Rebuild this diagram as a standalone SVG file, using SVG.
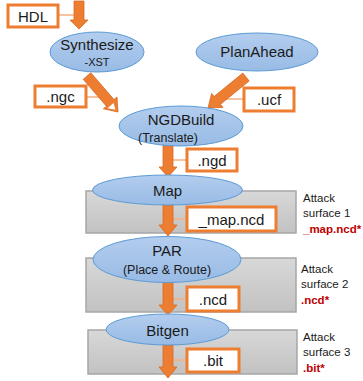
<svg xmlns="http://www.w3.org/2000/svg" width="363" height="381" viewBox="0 0 363 381">
<defs>
<linearGradient id="gb" x1="0" y1="0" x2="0" y2="1"><stop offset="0" stop-color="#b3cdee"/><stop offset="1" stop-color="#98bbe5"/></linearGradient>
<linearGradient id="gg" x1="0" y1="0" x2="0" y2="1"><stop offset="0" stop-color="#d8d8d8"/><stop offset="1" stop-color="#c2c2c2"/></linearGradient>
</defs>
<style>
.surf{fill:url(#gg);stroke:#a6a6a6;stroke-width:1.5}
.node{fill:url(#gb);stroke:#5b9bd5;stroke-width:1}
.box{fill:#fff;stroke:#ed7d31;stroke-width:3}
.arr{fill:#ed7d31;stroke:#d96a22;stroke-width:0.8}
.lnk{stroke:#f4b183;stroke-width:1.5;fill:none}
text{font-family:"Liberation Sans",Arial,sans-serif;fill:#1a1a1a}
.t{font-size:15px;text-anchor:middle}
.s{font-size:12.5px;text-anchor:middle}
.a{font-size:11.5px}
.r{font-size:11.5px;font-weight:bold;fill:#c00000}
</style>
<g id="surfaces">
<rect class="surf" x="86" y="191" width="210" height="42"/>
<rect class="surf" x="86" y="258" width="210" height="54"/>
<rect class="surf" x="88" y="330" width="209" height="44"/>
</g>
<g id="connectors">
<line class="lnk" x1="58" y1="15" x2="76" y2="15"/>
<polygon class="arr" points="74,1 84,1 84,20 88,20 79,29 70,20 74,20"/>
<line class="lnk" x1="86" y1="97" x2="101" y2="97"/>
<polygon class="arr" points="90.8,72.7 114,99.6 117,97 118,112 103.4,108.8 106.4,106.2 83.2,79.3"/>
<polygon points="113.5,103 115.5,109.8 107.5,108.3" fill="#fff"/>
<line class="lnk" x1="226" y1="99" x2="244" y2="99"/>
<polygon class="arr" points="249.2,80.9 220.5,104.3 223,107.4 208,108 211.6,93.4 214.1,96.5 242.8,73.1"/>
<line class="lnk" x1="172" y1="160" x2="187" y2="160"/>
<polygon class="arr" points="163,145 173,145 173,167 177,167 168,177 159,167 163,167"/>
<line class="lnk" x1="172" y1="219" x2="187" y2="219"/>
<polygon class="arr" points="163,205 173,205 173,225 177,225 168,236 159,225 163,225"/>
<line class="lnk" x1="172" y1="299" x2="187" y2="299"/>
<polygon class="arr" points="163,282 173,282 173,305 177,305 168,315 159,305 163,305"/>
<line class="lnk" x1="172" y1="360" x2="187" y2="360"/>
<polygon class="arr" points="163,345 173,345 173,367 177,367 168,378 159,367 163,367"/>
</g>
<g id="hdl"><rect class="box" x="8" y="5" width="50" height="22"/><text class="t" x="33" y="22">HDL</text></g>
<g id="synthesize"><ellipse class="node" cx="97" cy="52" rx="47" ry="20"/><text class="t" x="97" y="50">Synthesize</text><text x="97" y="66" font-size="11" text-anchor="middle">-XST</text></g>
<g id="planahead"><ellipse class="node" cx="257" cy="52" rx="61" ry="19"/><text class="t" x="257" y="57">PlanAhead</text></g>
<g id="ngc"><rect class="box" x="35" y="86" width="51" height="21"/><text class="t" x="60.5" y="102">.ngc</text></g>
<g id="ucf"><rect class="box" x="244" y="88" width="50" height="23"/><text class="t" x="269" y="105">.ucf</text></g>
<g id="ngdbuild"><ellipse class="node" cx="181" cy="126" rx="62" ry="20"/><text class="t" x="181" y="125">NGDBuild</text><text class="s" x="168" y="142">(Translate)</text></g>
<g id="ngd"><rect class="box" x="187" y="149" width="50" height="22"/><text class="t" x="212" y="166">.ngd</text></g>
<g id="map"><ellipse class="node" cx="167.5" cy="190" rx="75" ry="15"/><text class="t" x="167.5" y="196" font-size="16">Map</text></g>
<g id="mapncd"><rect class="box" x="187" y="207" width="89" height="24"/><text class="t" x="231.5" y="225">_map.ncd</text></g>
<g id="par"><ellipse class="node" cx="167" cy="259.5" rx="74" ry="23"/><text class="t" x="167" y="256">PAR</text><text class="s" x="167" y="274">(Place &amp; Route)</text></g>
<g id="ncd"><rect class="box" x="187" y="287" width="52" height="24"/><text class="t" x="213" y="305">.ncd</text></g>
<g id="bitgen"><ellipse class="node" cx="167.5" cy="329.5" rx="61.5" ry="15.5"/><text class="t" x="167.5" y="336">Bitgen</text></g>
<g id="bit"><rect class="box" x="187" y="349" width="52" height="23"/><text class="t" x="213" y="366">.bit</text></g>
<g id="labels">
<text class="a" x="303" y="202">Attack</text><text class="a" x="303" y="217">surface 1</text><text class="r" x="303" y="233">_map.ncd*</text>
<text class="a" x="301" y="273">Attack</text><text class="a" x="301" y="288">surface 2</text><text class="r" x="301" y="304">.ncd*</text>
<text class="a" x="303" y="341">Attack</text><text class="a" x="303" y="356">surface 3</text><text class="r" x="303" y="372">.bit*</text>
</g>
</svg>
